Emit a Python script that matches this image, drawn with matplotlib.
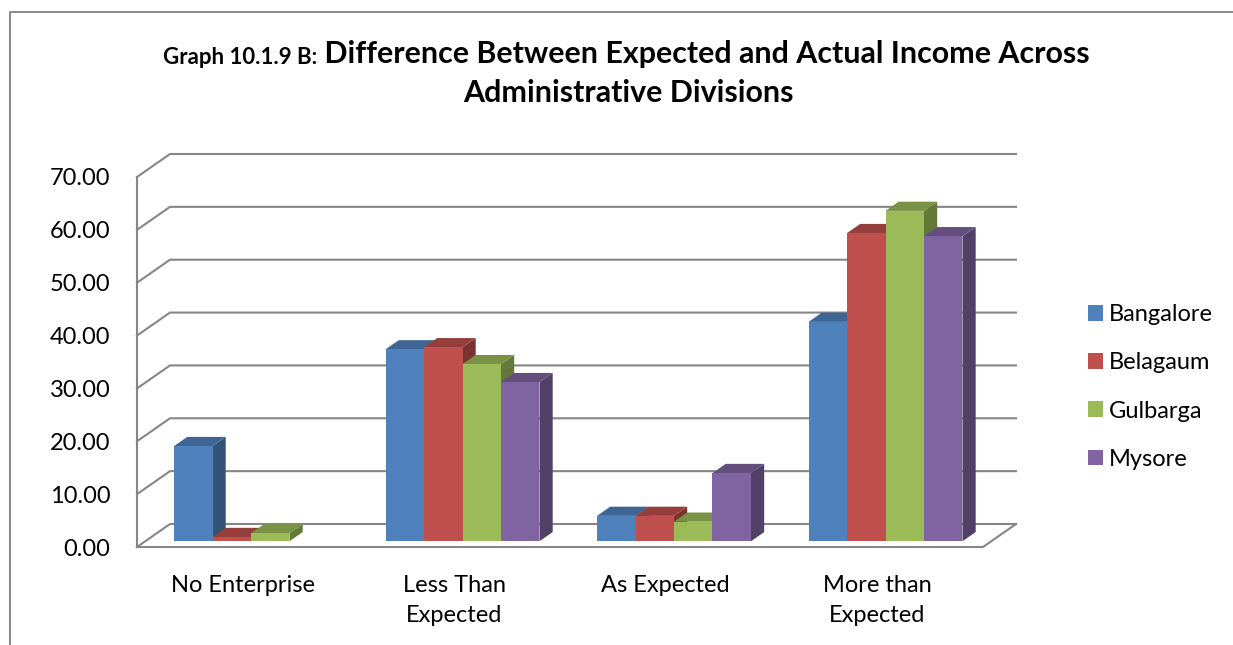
import matplotlib
matplotlib.use('Agg')
import matplotlib.pyplot as plt
import numpy as np
from matplotlib.patches import Polygon, Patch
from matplotlib.lines import Line2D

plt.rcParams['font.family'] = ['Lato', 'DejaVu Sans']

# income difference by division (%); Mysore has no "No Enterprise" value
categories = ['No Enterprise', 'Less Than\nExpected', 'As Expected', 'More than\nExpected']
divisions = ['Bangalore', 'Belagaum', 'Gulbarga', 'Mysore']
bangalore = [18.0, 36.3, 4.8, 41.5]
belagaum = [0.8, 36.7, 4.8, 58.3]
gulbarga = [1.5, 33.5, 3.7, 62.5]
mysore = [np.nan, 30.1, 12.9, 57.7]
series = [bangalore, belagaum, gulbarga, mysore]
colors = ['#4F81BD', '#C0504D', '#9BBB59', '#8064A2']
yticks = np.arange(0, 80, 10)

W, H = 1233, 645
fig = plt.figure(figsize=(W / 100, H / 100), dpi=100)
# plot area: front plane of the 3-d box
ax = fig.add_axes([137 / W, (H - 547) / H, 846 / W, 370 / H])
ax.set_xlim(-0.5, 3.5)
ax.set_ylim(0, 70)
for s in ax.spines.values():
    s.set_visible(False)
ax.patch.set_visible(False)

# oblique depth offset of the back wall (in data units)
DX = 33 / 211.5
DY = 23 / (370 / 70)
grid_c = '#868686'

for v in yticks:
    ax.plot([-0.5, -0.5 + DX, 3.5 + DX], [v, v + DY, v + DY], color=grid_c, lw=1.5,
            clip_on=False, zorder=1)
ax.plot([-0.5, -0.5], [0, 70], color=grid_c, lw=1.5, clip_on=False, zorder=1)
ax.plot([-0.5, 3.5, 3.5 + DX], [0, 0, DY], color=grid_c, lw=1.5, clip_on=False, zorder=1)


def shade(c, k):
    r, g, b = matplotlib.colors.to_rgb(c)
    return (r * k, g * k, b * k)


bw = 0.182
f0, fd = 0.25, 0.4
base = DY * f0
ddx, ddy = DX * fd, DY * fd
x = np.arange(len(categories))
for j, vals in enumerate(series):
    lefts = x - 2 * bw + j * bw + DX * f0
    ax.bar(lefts, vals, width=bw, bottom=base, align='edge', color=colors[j],
           edgecolor='none', zorder=3)
    for x0, v in zip(lefts, vals):
        if np.isnan(v):
            continue
        top = base + v
        ax.add_patch(Polygon([(x0, top), (x0 + bw, top), (x0 + bw + ddx, top + ddy),
                              (x0 + ddx, top + ddy)], closed=True,
                             facecolor=shade(colors[j], 0.78), edgecolor='none', zorder=2.5))
        ax.add_patch(Polygon([(x0 + bw, base), (x0 + bw + ddx, base + ddy),
                              (x0 + bw + ddx, top + ddy), (x0 + bw, top)], closed=True,
                             facecolor=shade(colors[j], 0.64), edgecolor='none', zorder=2))

ax.set_yticks(yticks)
ax.set_yticklabels([f'{v:.2f}' for v in yticks], fontsize=17)
ax.set_xticks(x)
ax.set_xticklabels(categories, fontsize=17, linespacing=1.55)
ax.tick_params(axis='y', length=0, pad=19)
ax.tick_params(axis='x', length=0, pad=20)

handles = [Patch(facecolor=c, edgecolor='none') for c in colors]
fig.legend(handles, divisions, loc='center left', bbox_to_anchor=(1076 / W, 1 - 387 / H),
           frameon=False, fontsize=17, handlelength=0.65, handleheight=0.65,
           handletextpad=0.25, labelspacing=1.15, borderpad=0)

# two-size title
t1 = fig.text(163 / W, 1 - 68 / H, 'Graph 10.1.9 B:', fontsize=16, fontweight='bold',
              va='bottom', ha='left')
ax.annotate(' Difference Between Expected and Actual Income Across', xy=(1, 0), xycoords=t1,
            fontsize=21.9, fontweight='bold', va='bottom', ha='left')
fig.text(628 / W, 1 - 93 / H, 'Administrative Divisions', fontsize=21.9, fontweight='bold',
         va='center', ha='center')

# chart frame
fig.add_artist(Line2D([10 / W, 10 / W, 1], [0, 1 - 12 / H, 1 - 12 / H], color='#8c8c8c',
                      lw=1.5, transform=fig.transFigure))

fig.savefig('out.png', dpi=100)
